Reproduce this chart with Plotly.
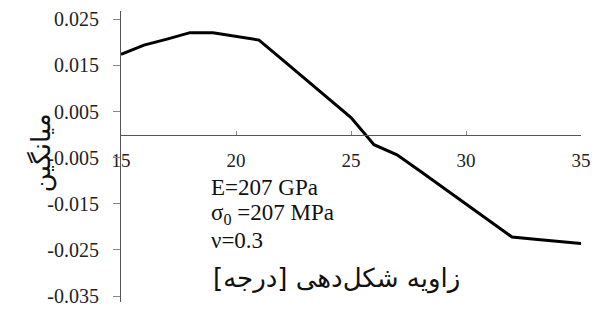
import plotly.graph_objects as go

angle = [15, 16, 17, 18, 19, 20, 21, 22, 23, 24, 25, 26, 27, 28, 29, 30, 31, 32, 33, 34, 35]
mean_val = [0.0174, 0.0194, 0.0207, 0.0221, 0.0221, 0.0213, 0.0205, 0.0163, 0.0121, 0.0079, 0.0037,
            -0.0022, -0.0044, -0.0079, -0.0115, -0.0152, -0.0188, -0.0222, -0.0227, -0.0231, -0.0236]

y_ticks = [0.025, 0.015, 0.005, -0.005, -0.015, -0.025, -0.035]
y_ticktext = ["0.025", "0.015", "0.005", "-0.005", "-0.015", "-0.025", "-0.035"]
x_ticks = [15, 20, 25, 30, 35]
x_ticktext = ["15", "20", "25", "30", "35"]

yr = [-0.0363, 0.0268]
serif = "Liberation Serif, Times New Roman, serif"

fig = go.Figure()
fig.add_trace(go.Scatter(x=angle, y=mean_val, mode="lines",
                         line=dict(color="black", width=3), showlegend=False))

fig.update_layout(
    width=599, height=316,
    margin=dict(l=121, r=8, t=8, b=14, pad=0),
    paper_bgcolor="white", plot_bgcolor="white",
    font=dict(family=serif, color="black"),
    xaxis=dict(range=[15, 35], tickvals=x_ticks, ticktext=x_ticktext,
               showgrid=False, zeroline=False, showline=True, linecolor="#555", linewidth=1,
               ticks="inside", ticklen=4, tickcolor="#888",
               anchor="free", position=(0 - yr[0]) / (yr[1] - yr[0]),
               ticklabelstandoff=9, ticklabeloverflow="allow",
               tickfont=dict(family=serif, size=19, color="#222")),
    yaxis=dict(range=yr, tickvals=y_ticks, ticktext=y_ticktext,
               showgrid=False, zeroline=False, showline=True, linecolor="#555", linewidth=1,
               ticks="outside", ticklen=7, tickcolor="#888",
               ticklabelstandoff=10, ticklabeloverflow="allow",
               tickfont=dict(family=serif, size=20, color="#222")),
)

def px_x(p):
    return (p - 121) / 470.0

def px_y(p):
    return (302 - p) / 294.0

fig.add_annotation(text="میانگین", xref="paper", yref="paper", x=px_x(22), y=px_y(151),
                   textangle=-90, showarrow=False, font=dict(family="DejaVu Sans", size=26, color="#111"))
fig.add_annotation(text="E=207 GPa", xref="paper", yref="paper", x=px_x(211), y=px_y(186),
                   xanchor="left", yanchor="middle", showarrow=False,
                   font=dict(family=serif, size=23, color="#111"))
fig.add_annotation(text="σ<sub>0</sub> =207 MPa", xref="paper", yref="paper", x=px_x(211), y=px_y(213),
                   xanchor="left", yanchor="middle", showarrow=False,
                   font=dict(family=serif, size=23, color="#111"))
fig.add_annotation(text="ν=0.3", xref="paper", yref="paper", x=px_x(211), y=px_y(240),
                   xanchor="left", yanchor="middle", showarrow=False,
                   font=dict(family=serif, size=23, color="#111"))
fig.add_annotation(text="زاویه شکل\u200cدهی [درجه]", xref="paper", yref="paper", x=px_x(341), y=px_y(278),
                   xanchor="center", yanchor="middle", showarrow=False,
                   font=dict(family="DejaVu Sans", size=26, color="#111"))

fig.write_html("out.html", config={"displayModeBar": False},
               post_script="document.body.style.margin='0';document.body.style.overflow='hidden';")
